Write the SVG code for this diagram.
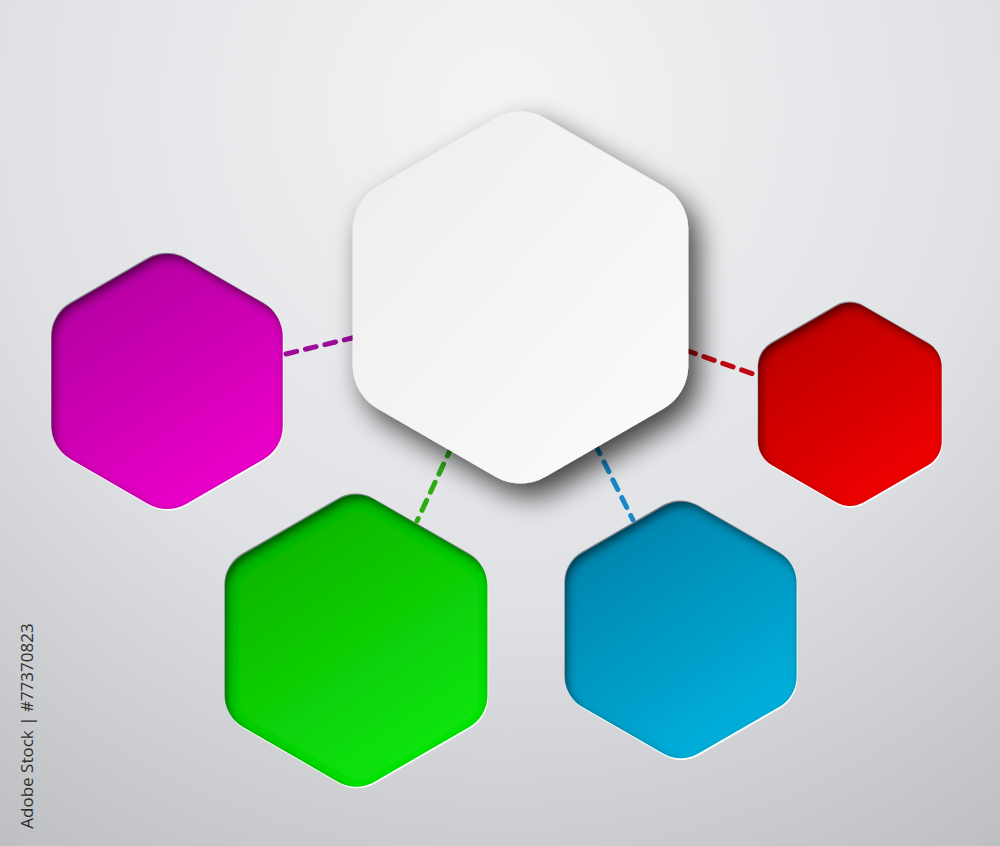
<svg xmlns="http://www.w3.org/2000/svg" xmlns:xlink="http://www.w3.org/1999/xlink" width="1000" height="846" viewBox="0 0 1000 846">
  <style>
    .rimDark { fill: #7c7f83; }
    .rimLight { fill: #ffffff; }
    .conn { fill: none; stroke-width: 5; stroke-linecap: round; stroke-dasharray: 11 9; }
    .stamp { font-family: "Open Sans", "Liberation Sans", sans-serif; font-size: 17px; fill: #2e2e2e; }
  </style>
  <defs>
    <radialGradient id="bg" cx="500" cy="110" r="900" gradientUnits="userSpaceOnUse">
      <stop offset="0" stop-color="#f3f4f5"/>
      <stop offset="0.55" stop-color="#e0e1e4"/>
      <stop offset="1" stop-color="#bcbec1"/>
    </radialGradient>
    <linearGradient id="gWhite" x1="0" y1="0" x2="1" y2="1">
      <stop offset="0" stop-color="#ededed"/>
      <stop offset="1" stop-color="#fcfcfc"/>
    </linearGradient>
    <linearGradient id="gMag" x1="0.2" y1="0" x2="0.8" y2="1">
      <stop offset="0" stop-color="#b0009e"/>
      <stop offset="1" stop-color="#f000cc"/>
    </linearGradient>
    <linearGradient id="gRed" x1="0.2" y1="0" x2="0.8" y2="1">
      <stop offset="0" stop-color="#b80000"/>
      <stop offset="1" stop-color="#f40000"/>
    </linearGradient>
    <linearGradient id="gGreen" x1="0.2" y1="0" x2="0.8" y2="1">
      <stop offset="0" stop-color="#06b000"/>
      <stop offset="1" stop-color="#12ea0c"/>
    </linearGradient>
    <linearGradient id="gBlue" x1="0.2" y1="0" x2="0.8" y2="1">
      <stop offset="0" stop-color="#0080a8"/>
      <stop offset="1" stop-color="#00b4e0"/>
    </linearGradient>
    <filter id="inner" x="-10%" y="-10%" width="120%" height="120%">
      <feGaussianBlur in="SourceAlpha" stdDeviation="5" result="blur"/>
      <feOffset in="blur" dx="3" dy="5" result="off"/>
      <feComposite in="SourceAlpha" in2="off" operator="out" result="inv"/>
      <feFlood flood-color="#000000" flood-opacity="0.85"/>
      <feComposite in2="inv" operator="in" result="shadow"/>
      <feMerge>
        <feMergeNode in="SourceGraphic"/>
        <feMergeNode in="shadow"/>
      </feMerge>
    </filter>
    <filter id="drop" x="-25%" y="-25%" width="160%" height="160%">
      <feGaussianBlur in="SourceAlpha" stdDeviation="14"/>
      <feOffset dx="10" dy="13" result="b"/>
      <feFlood flood-color="#000000" flood-opacity="0.72"/>
      <feComposite in2="b" operator="in"/>
      <feMerge>
        <feMergeNode/>
        <feMergeNode in="SourceGraphic"/>
      </feMerge>
    </filter>
    <path id="hexCenter" d="M545.5,118.17 L663.3,186.19 A50,50 0 0 1 688.3,229.49 L688.3,365.51 A50,50 0 0 1 663.3,408.81 L545.5,476.83 A50,50 0 0 1 495.5,476.83 L377.7,408.81 A50,50 0 0 1 352.7,365.51 L352.7,229.49 A50,50 0 0 1 377.7,186.19 L495.5,118.17 A50,50 0 0 1 545.5,118.17 Z"/>
    <path id="hexMag" d="M186.2,259.1 L263.7,303.85 A38,38 0 0 1 282.7,336.76 L282.7,426.24 A38,38 0 0 1 263.7,459.15 L186.2,503.9 A38,38 0 0 1 148.2,503.9 L70.7,459.15 A38,38 0 0 1 51.7,426.24 L51.7,336.76 A38,38 0 0 1 70.7,303.85 L148.2,259.1 A38,38 0 0 1 186.2,259.1 Z"/>
    <path id="hexRed" d="M863.75,306.45 L927.95,343.52 A27.5,27.5 0 0 1 941.7,367.34 L941.7,441.46 A27.5,27.5 0 0 1 927.95,465.28 L863.75,502.35 A27.5,27.5 0 0 1 836.25,502.35 L772.05,465.28 A27.5,27.5 0 0 1 758.3,441.46 L758.3,367.34 A27.5,27.5 0 0 1 772.05,343.52 L836.25,306.45 A27.5,27.5 0 0 1 863.75,306.45 Z"/>
    <path id="hexGreen" d="M374.2,499.69 L469.4,554.66 A36,36 0 0 1 487.4,585.83 L487.4,695.77 A36,36 0 0 1 469.4,726.94 L374.2,781.91 A36,36 0 0 1 338.2,781.91 L243,726.94 A36,36 0 0 1 225,695.77 L225,585.83 A36,36 0 0 1 243,554.66 L338.2,499.69 A36,36 0 0 1 374.2,499.69 Z"/>
    <path id="hexBlue" d="M698.3,506.38 L779.1,553.04 A35,35 0 0 1 796.6,583.35 L796.6,676.65 A35,35 0 0 1 779.1,706.96 L698.3,753.62 A35,35 0 0 1 663.3,753.62 L582.5,706.96 A35,35 0 0 1 565,676.65 L565,583.35 A35,35 0 0 1 582.5,553.04 L663.3,506.38 A35,35 0 0 1 698.3,506.38 Z"/>
  </defs>

  <rect x="0" y="0" width="1000" height="846" fill="url(#bg)"/>

  <g id="node-magenta">
    <use xlink:href="#hexMag" class="rimDark" transform="translate(-0.6,-1.3)"/>
    <use xlink:href="#hexMag" class="rimLight" transform="translate(0.8,1.6)"/>
    <use xlink:href="#hexMag" fill="url(#gMag)" filter="url(#inner)"/>
  </g>
  <g id="node-red">
    <use xlink:href="#hexRed" class="rimDark" transform="translate(-0.6,-1.3)"/>
    <use xlink:href="#hexRed" class="rimLight" transform="translate(0.8,1.6)"/>
    <use xlink:href="#hexRed" fill="url(#gRed)" filter="url(#inner)"/>
  </g>
  <g id="node-green">
    <use xlink:href="#hexGreen" class="rimDark" transform="translate(-0.6,-1.3)"/>
    <use xlink:href="#hexGreen" class="rimLight" transform="translate(0.8,1.6)"/>
    <use xlink:href="#hexGreen" fill="url(#gGreen)" filter="url(#inner)"/>
  </g>
  <g id="node-blue">
    <use xlink:href="#hexBlue" class="rimDark" transform="translate(-0.6,-1.3)"/>
    <use xlink:href="#hexBlue" class="rimLight" transform="translate(0.8,1.6)"/>
    <use xlink:href="#hexBlue" fill="url(#gBlue)" filter="url(#inner)"/>
  </g>

  <g id="connectors">
    <line class="conn" x1="286" y1="354" x2="356" y2="337" stroke="#9c0c9c"/>
    <line class="conn" x1="685" y1="350" x2="756" y2="375" stroke="#c00812"/>
    <line class="conn" x1="452" y1="446" x2="417" y2="521" stroke="#2eac14"/>
    <line class="conn" x1="595" y1="444" x2="633" y2="520" stroke="#1888c8"/>
  </g>

  <g id="node-center">
    <use xlink:href="#hexCenter" fill="url(#gWhite)" filter="url(#drop)"/>
  </g>

  <text class="stamp" text-anchor="middle" transform="translate(33,726) rotate(-90)">Adobe Stock | #77370823</text>
</svg>
